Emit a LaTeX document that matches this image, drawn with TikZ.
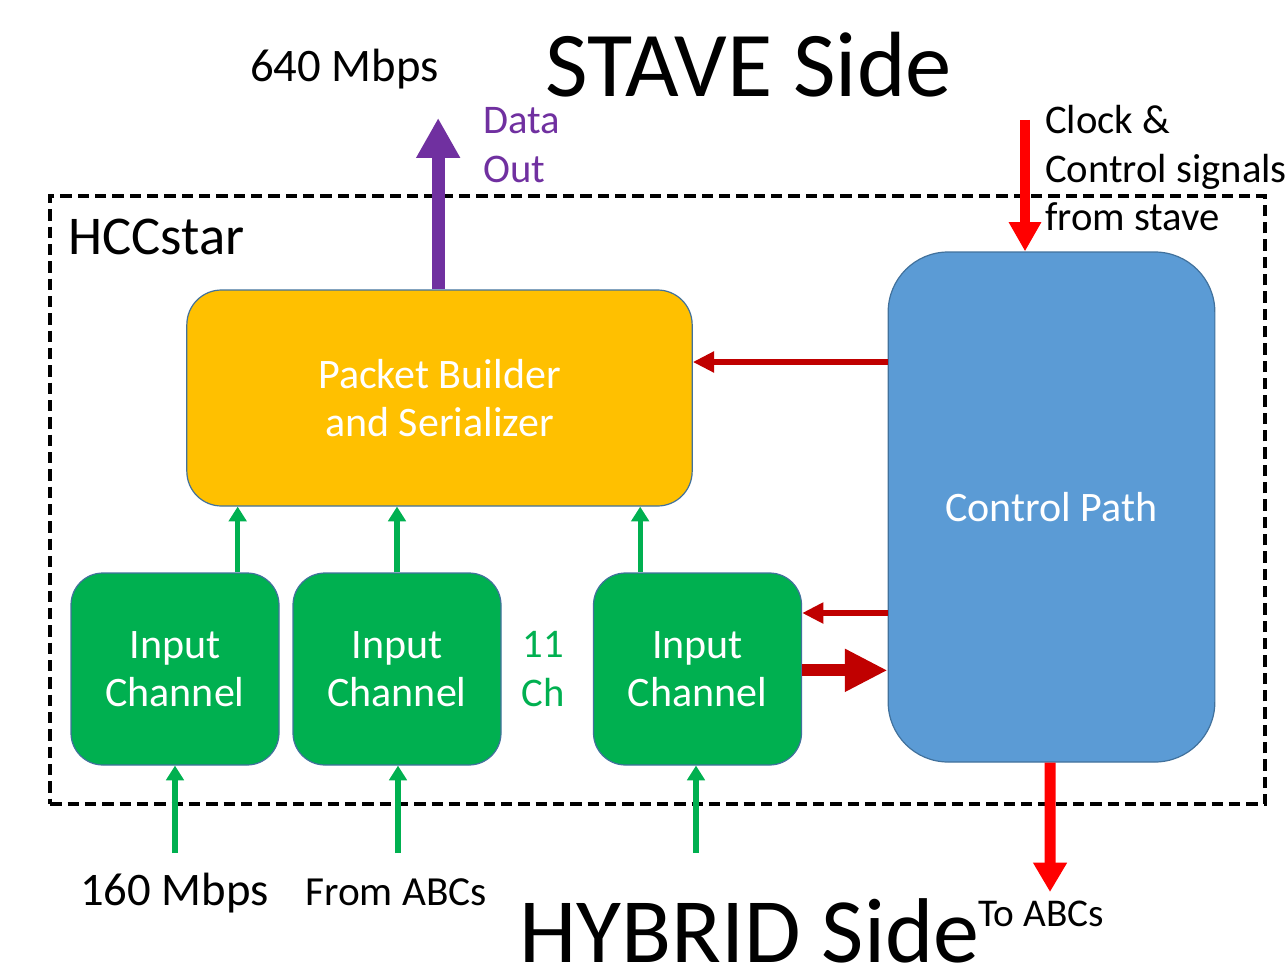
\documentclass[tikz,border=0pt]{standalone}
\usepackage{fontspec}
\setmainfont{Carlito}
\usepackage{tikz}
\usetikzlibrary{arrows.meta, positioning, calc}

\definecolor{pbyellow}{HTML}{FFC000}
\definecolor{cpblue}{HTML}{5B9BD5}
\definecolor{chgreen}{HTML}{00B050}
\definecolor{outpurple}{HTML}{7030A0}
\definecolor{ctlred}{HTML}{C00000}
\definecolor{sigred}{HTML}{FF0000}
\definecolor{edgeblue}{HTML}{41719C}

\begin{document}
\begin{tikzpicture}[
    x=0.75pt, y=-0.75pt,
    block/.style={rectangle, draw=edgeblue, line width=0.9pt, text=white, align=center,
      font=\fontsize{31.5}{36}\selectfont},
    chan/.style={block, fill=chgreen, rounded corners=24pt, minimum width=156pt, minimum height=144pt},
    label/.style={inner sep=0pt, align=left, font=\fontsize{30.5}{36.5}\selectfont},
    feed/.style={chgreen, line width=3.8pt, -{Triangle[width=13pt, length=11pt]}},
    ctl/.style={ctlred, line width=4.8pt, -{Triangle[width=15pt, length=16pt]}},
    sig/.style={sigred, line width=7.5pt, -{Triangle[width=23pt, length=22pt]}}
  ]
    \useasboundingbox (0,0) rectangle (1287,970);

    % chip outline
    \node[draw, dash pattern=on 8.5pt off 4.5pt, line width=2.6pt,
      minimum width=911pt, minimum height=456pt, inner sep=0pt] (hcc) at (657.5,500) {};
    \node[anchor=base west, inner sep=0pt, font=\fontsize{41}{41}\selectfont] (hccname) at (68,254) {HCCstar};

    \node[block, fill=pbyellow, rounded corners=26pt, minimum width=379pt, minimum height=162pt] (pkt) at (439.5,398) {Packet Builder\\and Serializer};
    \node[block, fill=cpblue, rounded corners=45pt, minimum width=245pt, minimum height=382.5pt] (ctrl) at (1051.5,507) {Control Path};
    \node[chan] (in1) at (175,669) {Input\\Channel};
    \node[chan] (in2) at (397,669) {Input\\Channel};
    \node[chan] (in3) at (697.5,669) {Input\\Channel};
    \node[label, align=center, text=chgreen] (nch) at (543,669) {11\\Ch};

    % texts round the chip
    \node[anchor=base west, inner sep=0pt, font=\fontsize{69.5}{69.5}\selectfont] (stave) at (545,97) {STAVE Side};
    \node[anchor=base west, inner sep=0pt, font=\fontsize{69}{69}\selectfont] (hybrid) at (519,962) {HYBRID Side};
    \node[anchor=base west, inner sep=0pt, font=\fontsize{35}{35}\selectfont] (outrate) at (250,82) {640 Mbps};
    \node[anchor=base west, inner sep=0pt, font=\fontsize{35}{35}\selectfont] (inrate) at (80,905) {160 Mbps};
    \node[label, anchor=north west, text=outpurple] (dout) at (483,107) {Data\\Out};
    \node[label, anchor=north west] (clktxt) at (1045,105) {Clock \&\\Control signals\\from stave};
    \node[anchor=base west, inner sep=0pt, font=\fontsize{31}{31}\selectfont] (fromabc) at (305,905) {From ABCs};
    \node[anchor=base west, inner sep=0pt, font=\fontsize{29.5}{29.5}\selectfont] (toabc) at (978,926) {To ABCs};

    \coordinate (out) at (438,118);
    \coordinate (clk) at (1025,120);
    \coordinate (hyb) at (1050,892);
    \coordinate (src1) at (175,853);
    \coordinate (src2) at (398,853);
    \coordinate (src3) at (696,853);

    \draw[outpurple, line width=9.8pt, -{Triangle[width=31pt, length=30pt]}] ([xshift=-1pt]pkt.north) -- ([xshift=-1pt]pkt.north |- out);
    \draw[sig] (clk) -- (clk |- ctrl.north);
    \draw[sig, line width=8.2pt, -{Triangle[width=24pt, length=22pt]}] ([xshift=-1pt]ctrl.south) -- (hyb);

    \draw[ctl] ([yshift=27pt]ctrl.west |- pkt.east) -- ([yshift=27pt]pkt.east);
    \draw[ctl] ([yshift=42pt]ctrl.west |- in3.east) -- ([yshift=42pt]in3.east);
    \draw[ctlred, line width=9pt, -{Triangle[width=30pt, length=32pt]}] ([yshift=-1pt]in3.east) -- ([yshift=-1pt]ctrl.west |- in3.east);

    \draw[feed] ([xshift=47pt]in1.north) -- ([xshift=47pt]in1.north |- pkt.south);
    \draw[feed] (in2.north) -- (in2.north |- pkt.south);
    \draw[feed] ([xshift=-43pt]in3.north) -- ([xshift=-43pt]in3.north |- pkt.south);
    \draw[feed] (src1) -- (in1.south);
    \draw[feed] (src2) -- (src2 |- in2.south);
    \draw[feed] (src3) -- (src3 |- in3.south);
  \end{tikzpicture}
\end{document}
